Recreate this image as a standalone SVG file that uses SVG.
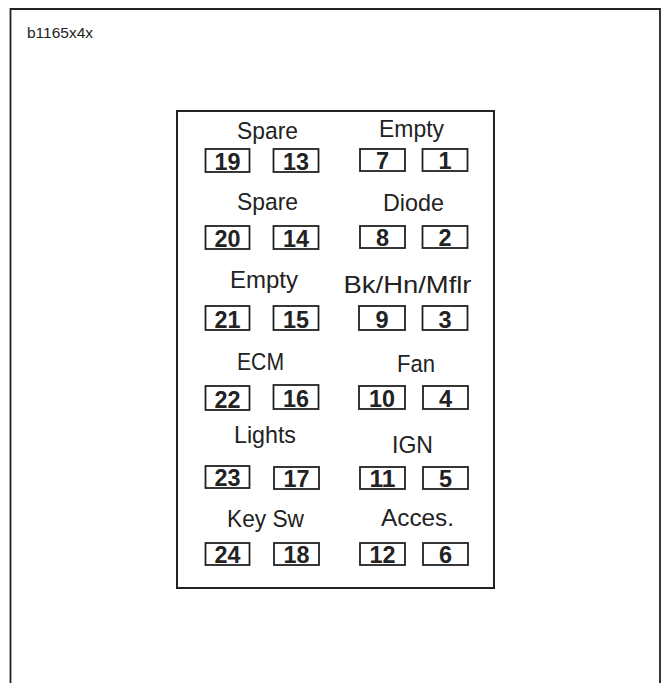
<svg xmlns="http://www.w3.org/2000/svg" width="663" height="683" viewBox="0 0 663 683">
<style>
.lbl{font-family:"Liberation Sans",Arial,sans-serif;font-size:24.5px;fill:#222;text-anchor:middle}
.num{font-family:"Liberation Sans",Arial,sans-serif;font-size:23.5px;font-weight:bold;fill:#222;text-anchor:middle}
.box{fill:#fff;stroke:#222;stroke-width:1.8}
.frame{fill:none;stroke:#222;stroke-width:1.8}
</style>
<rect width="663" height="683" fill="#fff"/>
<path class="frame" d="M10.5,683 V9 H660 V683"/>
<text x="27" y="38" style="font-family:'Liberation Sans',Arial,sans-serif;font-size:15.5px;fill:#222">b1165x4x</text>
<rect x="177" y="111" width="317" height="477" fill="none" stroke="#222" stroke-width="2"/>
<g id="r1l"><text class="lbl" x="267.5" y="139" textLength="61" lengthAdjust="spacingAndGlyphs">Spare</text>
<rect class="box" x="205.5" y="149" width="44" height="23"/><text class="num" x="227.5" y="169.5" textLength="26" lengthAdjust="spacingAndGlyphs">19</text>
<rect class="box" x="273.5" y="149" width="45" height="23"/><text class="num" x="296" y="169.5" textLength="26" lengthAdjust="spacingAndGlyphs">13</text></g>
<g id="r1r"><text class="lbl" x="411.5" y="137" textLength="65" lengthAdjust="spacingAndGlyphs">Empty</text>
<rect class="box" x="360" y="149" width="45" height="22"/><text class="num" x="382.5" y="168.5">7</text>
<rect class="box" x="422.5" y="149" width="45" height="22"/><text class="num" x="445" y="168.5">1</text></g>
<g id="r2l"><text class="lbl" x="267.5" y="210" textLength="61" lengthAdjust="spacingAndGlyphs">Spare</text>
<rect class="box" x="205.5" y="226" width="44" height="23"/><text class="num" x="227.5" y="246.5" textLength="26" lengthAdjust="spacingAndGlyphs">20</text>
<rect class="box" x="273.5" y="226" width="45" height="23"/><text class="num" x="296" y="246.5" textLength="26" lengthAdjust="spacingAndGlyphs">14</text></g>
<g id="r2r"><text class="lbl" x="413.5" y="211" textLength="61" lengthAdjust="spacingAndGlyphs">Diode</text>
<rect class="box" x="360" y="226" width="45" height="22"/><text class="num" x="382.5" y="245.5">8</text>
<rect class="box" x="422.5" y="226" width="45" height="22"/><text class="num" x="445" y="245.5">2</text></g>
<g id="r3l"><text class="lbl" x="264" y="288" textLength="68" lengthAdjust="spacingAndGlyphs">Empty</text>
<rect class="box" x="205.5" y="306" width="44" height="24"/><text class="num" x="227.5" y="327.5" textLength="26" lengthAdjust="spacingAndGlyphs">21</text>
<rect class="box" x="273.5" y="306" width="45" height="24"/><text class="num" x="296" y="327.5" textLength="26" lengthAdjust="spacingAndGlyphs">15</text></g>
<g id="r3r"><text class="lbl" x="407.5" y="293" textLength="128" lengthAdjust="spacingAndGlyphs">Bk/Hn/Mflr</text>
<rect class="box" x="359" y="306" width="46" height="24"/><text class="num" x="382" y="327.5">9</text>
<rect class="box" x="422.5" y="306" width="45" height="24"/><text class="num" x="445" y="327.5">3</text></g>
<g id="r4l"><text class="lbl" x="260.5" y="370" textLength="47" lengthAdjust="spacingAndGlyphs">ECM</text>
<rect class="box" x="205.5" y="386" width="44" height="24"/><text class="num" x="227.5" y="407.5" textLength="26" lengthAdjust="spacingAndGlyphs">22</text>
<rect class="box" x="273.5" y="385" width="45" height="24"/><text class="num" x="296" y="406.5" textLength="26" lengthAdjust="spacingAndGlyphs">16</text></g>
<g id="r4r"><text class="lbl" x="416" y="372" textLength="38" lengthAdjust="spacingAndGlyphs">Fan</text>
<rect class="box" x="359" y="386" width="46" height="23"/><text class="num" x="382" y="406.5" textLength="26" lengthAdjust="spacingAndGlyphs">10</text>
<rect class="box" x="423" y="386" width="45" height="23"/><text class="num" x="445.5" y="406.5">4</text></g>
<g id="r5l"><text class="lbl" x="265" y="443" textLength="62" lengthAdjust="spacingAndGlyphs">Lights</text>
<rect class="box" x="205.5" y="466" width="44" height="22"/><text class="num" x="227.5" y="485.5" textLength="26" lengthAdjust="spacingAndGlyphs">23</text>
<rect class="box" x="274" y="467" width="45" height="22"/><text class="num" x="296.5" y="486.5" textLength="26" lengthAdjust="spacingAndGlyphs">17</text></g>
<g id="r5r"><text class="lbl" x="412.5" y="453" textLength="41" lengthAdjust="spacingAndGlyphs">IGN</text>
<rect class="box" x="360" y="467" width="45" height="22"/><text class="num" x="382.5" y="486.5" textLength="26" lengthAdjust="spacingAndGlyphs">11</text>
<rect class="box" x="423" y="467" width="45" height="22"/><text class="num" x="445.5" y="486.5">5</text></g>
<g id="r6l"><text class="lbl" x="265.5" y="527" textLength="77" lengthAdjust="spacingAndGlyphs">Key Sw</text>
<rect class="box" x="205.5" y="543" width="44" height="22"/><text class="num" x="227.5" y="562.5" textLength="26" lengthAdjust="spacingAndGlyphs">24</text>
<rect class="box" x="274" y="543" width="45" height="22"/><text class="num" x="296.5" y="562.5" textLength="26" lengthAdjust="spacingAndGlyphs">18</text></g>
<g id="r6r"><text class="lbl" x="417.5" y="526" textLength="73" lengthAdjust="spacingAndGlyphs">Acces.</text>
<rect class="box" x="360" y="543" width="45" height="22"/><text class="num" x="382.5" y="562.5" textLength="26" lengthAdjust="spacingAndGlyphs">12</text>
<rect class="box" x="423" y="543" width="45" height="22"/><text class="num" x="445.5" y="562.5">6</text></g>
<g id="connectors"/>
</svg>
